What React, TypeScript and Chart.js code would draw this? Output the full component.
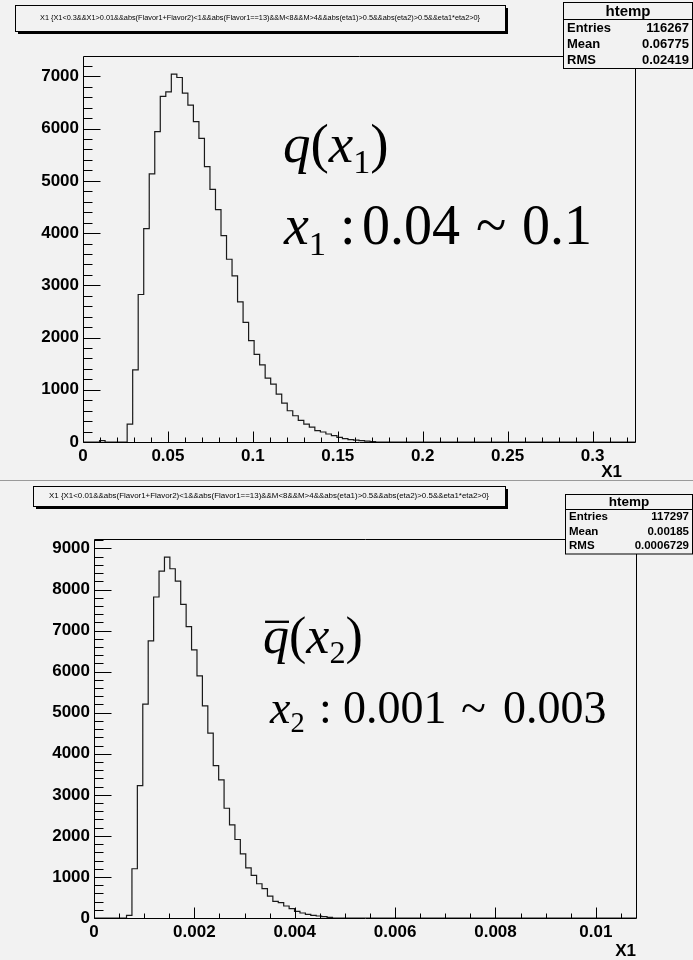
import React, { useEffect, useRef } from "react";
import { Chart, registerables } from "chart.js";
Chart.register(...registerables);

document.body.style.margin = "0";

// ---------- data: top histogram (x1) ----------
const topBinWidth = 0.00325;
const topXMax = 0.325;
const topYMax = 7390;
const topCounts = [
  0, 0, 0, 25, 0, 0, 0, 0, 343, 1380,
  2824, 4084, 5134, 5941, 6616, 6705, 7042, 6978, 6679, 6450,
  6132, 5814, 5273, 4835, 4447, 3950, 3499, 3181, 2684, 2290,
  1940, 1679, 1476, 1221, 1107, 916, 744, 598, 503, 413,
  343, 286, 216, 191, 153, 121, 89, 64, 45, 35,
  25, 15, 10, 0, 0, 0, 0, 0, 0, 0,
  0, 0, 0, 0, 0, 0, 0, 0, 0, 0,
  0, 0, 0, 0, 0, 0, 0, 0, 0, 0,
  0, 0, 0, 0, 0, 0, 0, 0, 0, 0,
  0, 0, 0, 0, 0, 0, 0, 0, 0, 0,
];
const topXTicks = [0, 0.05, 0.1, 0.15, 0.2, 0.25, 0.3];
const topXLabels = ["0", "0.05", "0.1", "0.15", "0.2", "0.25", "0.3"];
const topYTicks = [0, 1000, 2000, 3000, 4000, 5000, 6000, 7000];
const topYLabels = ["0", "1000", "2000", "3000", "4000", "5000", "6000", "7000"];

// ---------- data: bottom histogram (x2) ----------
const botBinWidth = 0.000108;
const botXMax = 0.0108;
const botYMax = 9230;
const botCounts = [
  0, 0, 0, 0, 0, 0, 65, 1199, 3224, 5209,
  6748, 7817, 8449, 8789, 8505, 8206, 7639, 7096, 6529, 5897,
  5168, 4504, 3710, 3362, 2673, 2268, 1912, 1563, 1223, 1037,
  834, 713, 535, 405, 373, 292, 227, 162, 122, 89,
  65, 49, 32, 16, 0, 0, 0, 0, 0, 0,
  0, 0, 0, 0, 0, 0, 0, 0, 0, 0,
  0, 0, 0, 0, 0, 0, 0, 0, 0, 0,
  0, 0, 0, 0, 0, 0, 0, 0, 0, 0,
  0, 0, 0, 0, 0, 0, 0, 0, 0, 0,
  0, 0, 0, 0, 0, 0, 0, 0, 0, 0,
];
const botXTicks = [0, 0.002, 0.004, 0.006, 0.008, 0.01];
const botXLabels = ["0", "0.002", "0.004", "0.006", "0.008", "0.01"];
const botYTicks = [0, 1000, 2000, 3000, 4000, 5000, 6000, 7000, 8000, 9000];
const botYLabels = ["0", "1000", "2000", "3000", "4000", "5000", "6000", "7000", "8000", "9000"];

// ---------- texts ----------
const topTitle =
  "X1 {X1<0.3&&X1>0.01&&abs(Flavor1+Flavor2)<1&&abs(Flavor1==13)&&M<8&&M>4&&abs(eta1)>0.5&&abs(eta2)>0.5&&eta1*eta2>0}";
const botTitle =
  "X1 {X1<0.01&&abs(Flavor1+Flavor2)<1&&abs(Flavor1==13)&&M<8&&M>4&&abs(eta1)>0.5&&abs(eta2)>0.5&&eta1*eta2>0}";
const statName = "htemp";
const topStats = [
  ["Entries", "116267"],
  ["Mean", "0.06775"],
  ["RMS", "0.02419"],
];
const botStats = [
  ["Entries", "117297"],
  ["Mean", "0.00185"],
  ["RMS", "0.0006729"],
];
const axisTitle = "X1";
const topRange = ["0.04", "~", "0.1"];
const botRange = ["0.001", "~", "0.003"];

const BG = "#f2f2f2";
const SANS = "'Liberation Sans', Arial, Helvetica, sans-serif";
const SERIF = "'Liberation Serif', 'Times New Roman', serif";

type PanelCfg = {
  counts: number[];
  binWidth: number;
  xMax: number;
  yMax: number;
  xTicks: number[];
  xLabels: string[];
  xMinor: number;
  yTicks: number[];
  yLabels: string[];
  yMinor: number;
  width: number;
  height: number;
  left: number;
  right: number;
  top: number;
  bottom: number;
};

const rootFrame = {
  id: "rootFrame",
  afterDatasetsDraw(chart: any, _args: any, opts: any) {
    const { ctx, chartArea: a, scales } = chart;
    const x = scales.x;
    const y = scales.y;
    ctx.save();
    ctx.lineWidth = 1;
    ctx.strokeStyle = "#000";
    const L = Math.round(a.left) + 0.5;
    const R = Math.round(a.right) + 0.5;
    const T = Math.round(a.top) + 0.5;
    const B = Math.round(a.bottom) + 0.5;
    ctx.beginPath();
    ctx.moveTo(L, T);
    ctx.lineTo(R, T);
    ctx.lineTo(R, B);
    ctx.lineTo(L, B);
    ctx.closePath();
    ctx.stroke();
    // y ticks (pointing inward)
    ctx.beginPath();
    const ny = Math.round(opts.yMax / opts.yMinor);
    for (let i = 0; i <= ny; i++) {
      const v = i * opts.yMinor;
      if (v > opts.yMax) break;
      const major = Math.abs(v / opts.yMajor - Math.round(v / opts.yMajor)) < 1e-6;
      const py = Math.round(y.getPixelForValue(v)) + 0.5;
      ctx.moveTo(L, py);
      ctx.lineTo(L + (major ? 17 : 9), py);
    }
    // x ticks (pointing inward)
    const nx = Math.round(opts.xMax / opts.xMinor);
    for (let i = 0; i <= nx; i++) {
      const v = i * opts.xMinor;
      if (v > opts.xMax + 1e-12) break;
      const major = Math.abs(v / opts.xMajor - Math.round(v / opts.xMajor)) < 1e-6;
      const px = Math.round(x.getPixelForValue(v)) + 0.5;
      ctx.moveTo(px, B);
      ctx.lineTo(px, B - (major ? 11 : 5));
    }
    ctx.stroke();
    ctx.restore();
  },
};

function HistPanel({ cfg }: { cfg: PanelCfg }) {
  const ref = useRef<HTMLCanvasElement | null>(null);
  useEffect(() => {
    if (!ref.current) return;
    const pts = cfg.counts.map((c, i) => ({ x: i * cfg.binWidth, y: c }));
    pts.push({ x: cfg.xMax, y: cfg.counts[cfg.counts.length - 1] });
    const chart = new Chart(ref.current, {
      type: "line",
      data: {
        datasets: [
          {
            data: pts,
            stepped: "before",
            borderColor: "#1a1a1a",
            borderWidth: 1.2,
            pointRadius: 0,
            fill: false,
          },
        ],
      },
      options: {
        animation: false,
        responsive: false,
        devicePixelRatio: 1,
        parsing: false,
        normalized: true,
        events: [],
        layout: {
          padding: { left: 0, right: cfg.width - cfg.right, top: cfg.top, bottom: 0 },
        },
        plugins: {
          legend: { display: false },
          tooltip: { enabled: false },
          title: { display: false },
          rootFrame: {
            yMax: cfg.yMax,
            yMinor: cfg.yMinor,
            yMajor: cfg.yTicks[1] - cfg.yTicks[0],
            xMax: cfg.xMax,
            xMinor: cfg.xMinor,
            xMajor: cfg.xTicks[1] - cfg.xTicks[0],
          },
        } as any,
        scales: {
          x: {
            type: "linear",
            min: 0,
            max: cfg.xMax,
            grid: { display: false, drawTicks: false },
            border: { display: false },
            afterFit: (s: any) => {
              s.height = cfg.height - cfg.bottom;
            },
            afterBuildTicks: (s: any) => {
              s.ticks = cfg.xTicks.map((v) => ({ value: v }));
            },
            ticks: {
              autoSkip: false,
              maxRotation: 0,
              padding: 4,
              color: "#000",
              font: { family: SANS, weight: "bold", size: 17 },
              callback: (_v: any, i: number) => cfg.xLabels[i],
            },
          },
          y: {
            type: "linear",
            min: 0,
            max: cfg.yMax,
            grid: { display: false, drawTicks: false },
            border: { display: false },
            afterFit: (s: any) => {
              s.width = cfg.left;
            },
            afterBuildTicks: (s: any) => {
              s.ticks = cfg.yTicks.map((v) => ({ value: v }));
            },
            ticks: {
              autoSkip: false,
              padding: 4,
              color: "#000",
              font: { family: SANS, weight: "bold", size: 17 },
              callback: (_v: any, i: number) => cfg.yLabels[i],
            },
          },
        },
      },
      plugins: [rootFrame as any],
    });
    return () => chart.destroy();
  }, [cfg]);
  return (
    <canvas
      ref={ref}
      width={cfg.width}
      height={cfg.height}
      style={{ display: "block", width: cfg.width, height: cfg.height }}
    />
  );
}

const topCfg: PanelCfg = {
  counts: topCounts,
  binWidth: topBinWidth,
  xMax: topXMax,
  yMax: topYMax,
  xTicks: topXTicks,
  xLabels: topXLabels,
  xMinor: 0.01,
  yTicks: topYTicks,
  yLabels: topYLabels,
  yMinor: 200,
  width: 693,
  height: 480,
  left: 83,
  right: 635,
  top: 56,
  bottom: 442,
};

const botCfg: PanelCfg = {
  counts: botCounts,
  binWidth: botBinWidth,
  xMax: botXMax,
  yMax: botYMax,
  xTicks: botXTicks,
  xLabels: botXLabels,
  xMinor: 0.0005,
  yTicks: botYTicks,
  yLabels: botYLabels,
  yMinor: 200,
  width: 693,
  height: 480,
  left: 94,
  right: 636,
  top: 59,
  bottom: 438,
};

function TitleBox({ x, y, w, h, text, tl }: { x: number; y: number; w: number; h: number; text: string; tl: number }) {
  return (
    <g>
      <rect x={x + 3} y={y + 3} width={w} height={h} fill="#000" />
      <rect x={x + 0.5} y={y + 0.5} width={w} height={h} fill={BG} stroke="#000" strokeWidth={1} />
      <text
        x={x + w / 2}
        y={y + h / 2 + 2.3}
        textAnchor="middle"
        fontFamily={SANS}
        fontSize={6.5}
        textLength={tl}
        lengthAdjust="spacingAndGlyphs"
        fill="#000"
      >
        {text}
      </text>
    </g>
  );
}

function StatBox({
  x, y, w, hh, rh, hfs, fs, rows,
}: { x: number; y: number; w: number; hh: number; rh: number; hfs: number; fs: number; rows: string[][] }) {
  const h = hh + rh * rows.length + 1;
  return (
    <g>
      <rect x={x + 0.5} y={y + 0.5} width={w} height={h} fill={BG} stroke="#000" strokeWidth={1} />
      <line x1={x} x2={x + w} y1={y + hh + 0.5} y2={y + hh + 0.5} stroke="#000" strokeWidth={1} />
      <text x={x + w / 2 + 0.5} y={y + hh - 3.5} textAnchor="middle" fontFamily={SANS} fontWeight="bold" fontSize={hfs} fill="#000">
        {statName}
      </text>
      {rows.map((r, i) => (
        <g key={r[0]}>
          <text x={x + 4} y={y + hh + rh * (i + 1) - 3.5} fontFamily={SANS} fontWeight="bold" fontSize={fs} fill="#000">
            {r[0]}
          </text>
          <text x={x + w - 3} y={y + hh + rh * (i + 1) - 3.5} textAnchor="end" fontFamily={SANS} fontWeight="bold" fontSize={fs} fill="#000">
            {r[1]}
          </text>
        </g>
      ))}
    </g>
  );
}

function Formula({ x, y, fs, v, sub, bar }: { x: number; y: number; fs: number; v: string; sub: string; bar: boolean }) {
  return (
    <g>
      {bar && (
        <line x1={x + fs * 0.04} x2={x + fs * 0.5} y1={y - fs * 0.6} y2={y - fs * 0.6} stroke="#000" strokeWidth={fs * 0.045} />
      )}
      <text x={x} y={y} fontFamily={SERIF} fontSize={fs} fill="#000">
        <tspan fontStyle="italic">{v}</tspan>
        <tspan>(</tspan>
        <tspan fontStyle="italic">x</tspan>
        <tspan fontSize={fs * 0.62} dy={fs * 0.2}>{sub}</tspan>
        <tspan dy={-fs * 0.2}>)</tspan>
      </text>
    </g>
  );
}

function Range({
  x, y, fs, sub, colonX, parts, partX,
}: { x: number; y: number; fs: number; sub: string; colonX: number; parts: string[]; partX: number[] }) {
  return (
    <g fontFamily={SERIF} fontSize={fs} fill="#000">
      <text x={x} y={y}>
        <tspan fontStyle="italic">x</tspan>
        <tspan fontSize={fs * 0.62} dy={fs * 0.2}>{sub}</tspan>
      </text>
      <text x={colonX} y={y}>:</text>
      {parts.map((p, i) => (
        <text key={i} x={partX[i]} y={y}>
          {p}
        </text>
      ))}
    </g>
  );
}

export default function App() {
  return (
    <div style={{ position: "relative", width: 693, height: 960, background: "#fff", overflow: "hidden" }}>
      <div style={{ position: "absolute", left: 0, top: 0, width: 693, height: 480, background: BG }}>
        <HistPanel cfg={topCfg} />
      </div>
      <div style={{ position: "absolute", left: 0, top: 480, width: 693, height: 480, background: BG }}>
        <HistPanel cfg={botCfg} />
      </div>
      <svg width={693} height={960} style={{ position: "absolute", left: 0, top: 0, pointerEvents: "none" }}>
        <line x1={0} x2={693} y1={480.5} y2={480.5} stroke="#9a9a9a" strokeWidth={1} />
        <TitleBox x={15} y={5} w={490} h={26} text={topTitle} tl={440} />
        <TitleBox x={33} y={486} w={472} h={20} text={botTitle} tl={440} />
        <StatBox x={563} y={2} w={129} hh={17} rh={16} hfs={15} fs={13} rows={topStats} />
        <StatBox x={565} y={494} w={127} hh={15} rh={14.5} hfs={13.5} fs={11.5} rows={botStats} />
        <Formula x={283} y={162} fs={55} v="q" sub="1" bar={false} />
        <Range x={284} y={244} fs={56} sub="1" colonX={340} parts={topRange} partX={[362, 476, 522]} />
        <Formula x={263} y={653} fs={52} v="q" sub="2" bar={true} />
        <Range x={270} y={723} fs={46} sub="2" colonX={319} parts={botRange} partX={[343, 461, 503]} />
        <text x={622} y={477} textAnchor="end" fontFamily={SANS} fontWeight="bold" fontSize={17} fill="#000">
          {axisTitle}
        </text>
        <text x={636} y={956} textAnchor="end" fontFamily={SANS} fontWeight="bold" fontSize={17} fill="#000">
          {axisTitle}
        </text>
      </svg>
    </div>
  );
}
